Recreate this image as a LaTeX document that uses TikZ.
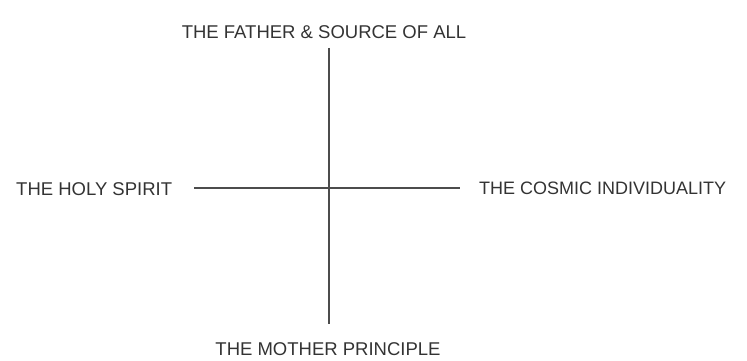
\documentclass[tikz,border=0pt]{standalone}
\usepackage{fontspec}
\setmainfont{Liberation Sans}
\begin{document}
\begin{tikzpicture}[x=1pt,y=-1pt,
  lbl/.style={text=black!80, inner sep=0pt, font=\fontsize{18.5}{18.5}\selectfont},
  axis/.style={draw=black!70, line width=2.8pt}]
\useasboundingbox (0,0) rectangle (747,361);
\node[lbl] (top) at (324,32) {THE FATHER \& SOURCE OF ALL};
\node[lbl, anchor=west] (left) at (16,189.5) {THE HOLY SPIRIT};
\node[lbl, anchor=west, font=\fontsize{18}{18}\selectfont] (right) at (479,188.5) {THE COSMIC INDIVIDUALITY};
\node[lbl] (bottom) at (328,349) {THE MOTHER PRINCIPLE};
\coordinate (vt) at (329,48);
\coordinate (vb) at (329,324);
\coordinate (hl) at (194,188);
\coordinate (hr) at (460,188);
\draw[axis] (vt) -- (vb);
\draw[axis] (hl) -- (hr);
\end{tikzpicture}
\end{document}
